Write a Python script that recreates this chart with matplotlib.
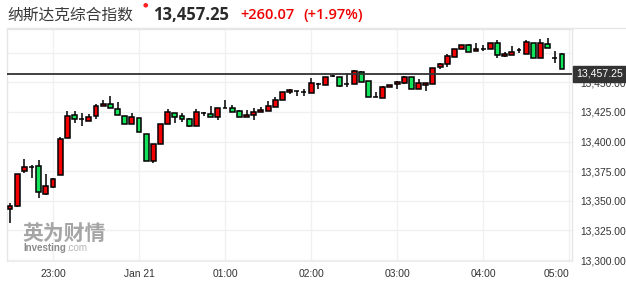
import matplotlib
matplotlib.use("Agg")
import matplotlib.pyplot as plt
import matplotlib.dates as mdates
import numpy as np
import pandas as pd

# ---------------- data ----------------
title_name = "纳斯达克综合指数"
title_price = "13,457.25"
title_change = "+260.07"
title_pct = "(+1.97%)"
last_price = 13457.25
last_price_label = "13,457.25"

start_time = "2021-01-20 22:30"
n_candles = 78

opens = [13342.8, 13345.3, 13374.9, 13378.7, 13379.1, 13355.5, 13361.9, 13371.5, 13402.7, 13422.1,
         13418.8, 13417.6, 13421.3, 13429.7, 13431.4, 13427.7, 13421.3, 13414.6, 13419.6, 13406.1,
         13383.3, 13397.7, 13414.6, 13423.8, 13421.3, 13419.0, 13413.4, 13424.3, 13423.0, 13421.0,
         13428.6, 13428.0, 13425.8, 13420.5, 13422.2, 13424.7, 13426.0, 13429.4, 13435.3, 13441.6,
         13442.4, 13441.6, 13441.2, 13448.3, 13447.5, 13455.1, 13454.7, 13448.3, 13448.3, 13459.0,
         13450.9, 13437.9, 13436.5, 13445.8, 13448.3, 13449.2, 13454.2, 13444.1, 13447.5, 13448.6,
         13462.7, 13465.2, 13471.1, 13477.9, 13481.2, 13476.2, 13478.4, 13477.9, 13482.9, 13472.5,
         13473.3, 13477.0, 13473.9, 13483.2, 13470.5, 13482.6, 13470.5, 13473.9]
highs = [13347.9, 13372.5, 13385.3, 13380.0, 13384.2, 13372.6, 13369.0, 13403.6, 13425.8, 13426.0,
         13423.8, 13423.0, 13431.4, 13435.1, 13438.4, 13433.1, 13421.3, 13424.1, 13419.6, 13406.1,
         13397.7, 13414.6, 13427.5, 13423.8, 13423.8, 13419.5, 13427.5, 13425.2, 13429.7, 13428.0,
         13435.1, 13430.8, 13426.6, 13426.6, 13428.0, 13428.9, 13434.2, 13437.9, 13441.6, 13444.4,
         13443.0, 13444.1, 13453.4, 13449.2, 13454.2, 13456.2, 13454.7, 13457.6, 13460.0, 13459.8,
         13450.9, 13441.8, 13446.9, 13448.0, 13451.1, 13455.3, 13454.2, 13452.5, 13449.2, 13461.8,
         13466.6, 13473.9, 13478.1, 13481.2, 13482.3, 13483.4, 13481.2, 13482.9, 13485.7, 13475.6,
         13480.4, 13479.0, 13485.7, 13483.5, 13486.6, 13487.4, 13476.7, 13474.7]
lows = [13331.0, 13345.0, 13373.4, 13369.0, 13352.6, 13355.0, 13361.0, 13371.5, 13402.7, 13415.4,
        13413.4, 13417.6, 13419.0, 13429.7, 13428.0, 13422.2, 13414.6, 13414.6, 13407.8, 13383.3,
        13382.1, 13397.7, 13414.6, 13415.9, 13416.7, 13412.5, 13413.4, 13421.8, 13421.0, 13418.4,
        13428.6, 13425.2, 13420.5, 13420.5, 13418.4, 13424.7, 13426.0, 13429.4, 13435.3, 13439.9,
        13438.7, 13438.7, 13441.2, 13444.1, 13447.5, 13454.2, 13446.3, 13446.3, 13448.3, 13450.5,
        13437.3, 13437.3, 13436.5, 13445.8, 13444.4, 13448.3, 13444.1, 13444.1, 13442.9, 13448.6,
        13461.0, 13463.2, 13471.1, 13477.9, 13475.3, 13476.2, 13476.7, 13477.9, 13470.5, 13471.1,
        13472.8, 13474.5, 13473.9, 13470.5, 13470.5, 13479.0, 13466.3, 13461.0]
closes = [13345.6, 13372.3, 13378.3, 13378.7, 13357.1, 13362.5, 13368.1, 13401.9, 13421.8, 13418.8,
          13418.8, 13420.5, 13429.7, 13431.4, 13428.0, 13422.2, 13414.6, 13420.5, 13407.8, 13383.3,
          13397.7, 13414.6, 13424.7, 13421.0, 13418.8, 13413.4, 13424.7, 13424.3, 13421.0, 13428.0,
          13428.6, 13425.2, 13420.5, 13422.4, 13424.7, 13426.6, 13429.7, 13435.1, 13441.6, 13443.5,
          13442.4, 13441.6, 13449.2, 13448.3, 13454.2, 13455.1, 13447.1, 13448.3, 13459.3, 13450.5,
          13437.3, 13437.9, 13445.8, 13448.0, 13450.0, 13454.7, 13444.1, 13449.2, 13449.2, 13461.8,
          13465.5, 13472.2, 13478.1, 13481.2, 13475.3, 13477.9, 13478.4, 13482.9, 13472.8, 13474.2,
          13475.6, 13477.0, 13484.0, 13470.5, 13483.2, 13479.0, 13470.5, 13461.5]

y_ticks = [13300, 13325, 13350, 13375, 13400, 13425, 13450, 13475]
y_labels = ["13,300.00", "13,325.00", "13,350.00", "13,375.00", "13,400.00", "13,425.00", "13,450.00", ""]
x_ticks = ["2021-01-20 23:00", "2021-01-21 00:00", "2021-01-21 01:00", "2021-01-21 02:00",
           "2021-01-21 03:00", "2021-01-21 04:00", "2021-01-21 05:00"]
x_labels = ["23:00", "Jan 21", "01:00", "02:00", "03:00", "04:00", "05:00"]

UP = "#f20000"
DOWN = "#13e35a"
TXT = "#333333"

# ---------------- figure ----------------
fig = plt.figure(figsize=(6.26, 2.85), dpi=100)
ax = fig.add_axes([7 / 626, 1 - 261 / 285, 565 / 626, 232 / 285])

times = pd.date_range(start_time, periods=n_candles, freq="5min")
xs = mdates.date2num(times.to_pydatetime())
step = 5.0 / (24 * 60)
bw = step * 0.68

o = np.array(opens); h = np.array(highs); l = np.array(lows); c = np.array(closes)
cols = []
for oi, ci in zip(o, c):
    if abs(ci - oi) < 1e-9:
        cols.append("black")
    elif ci > oi:
        cols.append(UP)
    else:
        cols.append(DOWN)

ax.vlines(xs, l, h, color="black", lw=1.1, zorder=3)
ax.bar(xs, np.abs(c - o), bottom=np.minimum(o, c), width=bw, color=cols,
       edgecolor="black", linewidth=1.1, zorder=4)

ax.axhline(last_price, color="#333333", lw=1.3, zorder=5)

ax.set_xlim(xs[0] - 0.42 * step, xs[0] + 78.4 * step)
ax.set_ylim(13299.2, 13495.0)

# grid
for yv in y_ticks:
    ax.axhline(yv, color="#f0f0f0", lw=1.0, zorder=0)
xt = mdates.date2num(pd.to_datetime(x_ticks).to_pydatetime())
for xv in xt:
    ax.axvline(xv, color="#f0f0f0", lw=1.0, zorder=0)

ax.set_xticks(xt)
ax.set_xticklabels(x_labels, fontfamily="Liberation Sans", fontsize=7.4, color=TXT)
ax.get_xticklabels()[-1].set_ha("right")
ax.tick_params(axis="x", length=0, pad=6)
ax.yaxis.tick_right()
ax.set_yticks(y_ticks)
ax.set_yticklabels(y_labels, fontfamily="Liberation Sans", fontsize=7.4, color=TXT)
ax.tick_params(axis="y", length=0, pad=6)

for side in ["left", "right", "top"]:
    ax.spines[side].set_color("#e6e6e6")
    ax.spines[side].set_linewidth(1.0)
ax.spines["bottom"].set_color("#ececec")

# last-price label box
ax.annotate(last_price_label, xy=(1.0, last_price), xycoords=("axes fraction", "data"),
            xytext=(3.2, 0), textcoords="offset points", ha="left", va="center",
            fontfamily="Liberation Sans", fontsize=7.6, color="white", zorder=10,
            annotation_clip=False,
            bbox=dict(boxstyle="square,pad=0.28", fc="#333333", ec="#333333"))

# title
fig.text(7 / 626, 1 - 15 / 285, title_name, fontfamily="Noto Sans CJK SC", fontsize=11.3,
         color="#3a3a3a", va="center", ha="left")
fig.text(145 / 626, 1 - 5 / 285, "●", fontfamily="DejaVu Sans", fontsize=4.5, color="#ff2020",
         va="center", ha="center")
fig.text(153 / 626, 1 - 15 / 285, title_price, fontfamily="Open Sans", fontweight="bold",
         fontsize=12, color="#2a2a2a", va="center", ha="left")
fig.text(240 / 626, 1 - 15 / 285, title_change, fontfamily="Open Sans", fontweight="semibold",
         fontsize=10.5, color="#ee0000", va="center", ha="left")
fig.text(303 / 626, 1 - 15 / 285, title_pct, fontfamily="Open Sans", fontweight="semibold",
         fontsize=10.5, color="#ee0000", va="center", ha="left")
fig.add_artist(plt.Line2D([7 / 626, 1.0], [1 - 28 / 285, 1 - 28 / 285], color="#e6e6e6", lw=1.0))

# watermark
fig.text(22 / 626, 1 - 233 / 285, "英为财情", fontfamily="Noto Sans CJK SC", fontweight="bold",
         fontsize=15, color="#959595", alpha=0.85, va="center", ha="left")
fig.text(23 / 626, 1 - 248 / 285, "Investing", fontfamily="Liberation Sans", fontweight="bold",
         fontsize=7.0, color="#777777", alpha=0.85, va="center", ha="left")
fig.text(66 / 626, 1 - 248 / 285, ".com", fontfamily="Liberation Sans",
         fontsize=7.0, color="#a8a8a8", alpha=0.85, va="center", ha="left")

fig.savefig("out.png", dpi=100)
